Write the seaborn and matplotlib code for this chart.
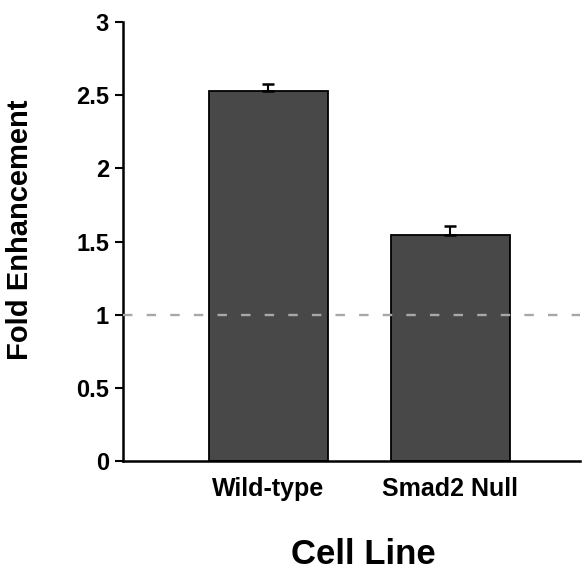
import matplotlib
matplotlib.use("Agg")
import matplotlib.pyplot as plt
import seaborn as sns
import pandas as pd

categories = ["Wild-type", "Smad2 Null"]
fold_enhancement = [2.53, 1.545]
errors = [0.045, 0.06]
y_ticks = [0, 0.5, 1, 1.5, 2, 2.5, 3]
y_tick_labels = ["0", "0.5", "1", "1.5", "2", "2.5", "3"]
baseline = 1.0

sns.set_style("white")
plt.rcParams["font.family"] = ["Liberation Sans", "DejaVu Sans"]
plt.rcParams["font.weight"] = "bold"
plt.rcParams["text.color"] = "black"
plt.rcParams["axes.labelcolor"] = "black"
plt.rcParams["xtick.color"] = "black"
plt.rcParams["ytick.color"] = "black"

df = pd.DataFrame({"Cell Line": categories, "Fold Enhancement": fold_enhancement})

fig = plt.figure(figsize=(5.85, 5.71), dpi=100)
ax = fig.add_axes([0.210, 0.193, 0.781, 0.768])

sns.barplot(data=df, x="Cell Line", y="Fold Enhancement", color="#484848",
            saturation=1, width=0.65, edgecolor="black", linewidth=1.3,
            errorbar=None, ax=ax)

xs = list(range(len(categories)))
ax.errorbar(xs, fold_enhancement, yerr=[[0] * len(errors), errors], fmt="none",
            ecolor="black", elinewidth=1.5, capsize=4, capthick=1.8, zorder=5)

ax.axhline(baseline, color="#a8a8a8", linestyle=(0, (4, 6)), linewidth=1.7, zorder=4)

ax.set_xlim(-0.80, 1.71)
ax.set_ylim(0, 3)
ax.set_yticks(y_ticks)
ax.set_yticklabels(y_tick_labels, fontsize=17, fontweight="bold", color="black")
ax.set_xticks(xs)
ax.set_xticklabels(categories, fontsize=18, fontweight="bold", color="black")

for side in ["top", "right"]:
    ax.spines[side].set_visible(False)
for side in ["left", "bottom"]:
    ax.spines[side].set_linewidth(1.8)
    ax.spines[side].set_color("black")

ax.tick_params(axis="y", direction="out", length=6, width=1.5, color="black", pad=4, left=True)
ax.tick_params(axis="x", length=0, pad=12)

ax.set_xlabel("Cell Line", fontsize=25, fontweight="bold", labelpad=18, color="black")
ax.xaxis.set_label_coords(0.527, -0.175)
ax.set_ylabel("Fold Enhancement", fontsize=21, fontweight="bold", color="black")
ax.yaxis.set_label_coords(-0.195, 0.526)

fig.savefig("out.png", dpi=100)
